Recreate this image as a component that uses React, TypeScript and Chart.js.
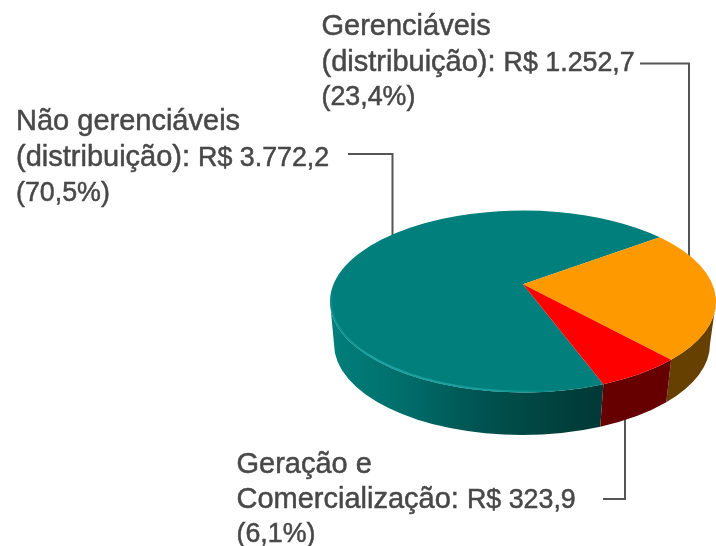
import React, { useEffect, useRef } from "react";
import { Chart, registerables } from "chart.js";

Chart.register(...registerables);

const categories = ["Não gerenciáveis (distribuição)", "Gerenciáveis (distribuição)", "Geração e Comercialização"];
const values = [3772.2, 1252.7, 323.9];
const valueLabels = ["R$ 3.772,2", "R$ 1.252,7", "R$ 323,9"];
const percentLabels = ["(70,5%)", "(23,4%)", "(6,1%)"];
const topColors = ["#007F7C", "#FF9900", "#FF0000"];
const wallColors = ["#006060", "#664000", "#660000"];
const labelLines = [
  ["Não gerenciáveis", "(distribuição):"],
  ["Gerenciáveis", "(distribuição):"],
  ["Geração e", "Comercialização:"],
];

const W = 716;
const H = 546;
const ROTATION = 159.6;
const TILT = 0.4715;
const APEX_K = 0.825;
const DEPTH = 42.5;
const BOTTOM_INSET = 5;
const LABEL_FONT = 29;
const VALUE_FONT = 26.8;
const TEXT_COLOR = "#484848";
const LINE_COLOR = "#555555";
const labelPos = [
  { x: 16, y: [130, 165.5, 201] },
  { x: 321.5, y: [35, 70.5, 105] },
  { x: 236.5, y: [473, 507.5, 542] },
];
const leaders = [
  [[348, 154], [392.5, 154], [392.5, 240]],
  [[640, 63.5], [689, 63.5], [689, 258]],
  [[603, 499], [625, 499], [625, 415]],
];

const toPhi = (chartAngle: number) => {
  // chart angle (0 = +x) to ellipse angle from the far point, with perspective
  let a = chartAngle + Math.PI / 2;
  a = Math.atan2(Math.sin(a), Math.cos(a));
  return 2 * Math.atan2(APEX_K * Math.sin(a / 2), Math.cos(a / 2));
};

const pie3d = {
  id: "pie3d",
  beforeDatasetsDraw(chart: any) {
    const ctx = chart.ctx;
    const arcs = chart.getDatasetMeta(0).data;
    const { x: cx, y: cy, outerRadius: rx } = arcs[0].getProps(["x", "y", "outerRadius"]);
    const ry = rx * TILT;
    const brx = rx - BOTTOM_INSET;
    const bcx = cx - 1;
    const bcy = cy + DEPTH;

    ctx.save();
    ctx.strokeStyle = LINE_COLOR;
    ctx.lineWidth = 2;
    for (const l of leaders) {
      ctx.beginPath();
      l.forEach((p, i) => (i ? ctx.lineTo(p[0], p[1]) : ctx.moveTo(p[0], p[1])));
      ctx.stroke();
    }

    const segs = arcs.map((arc: any, i: number) => {
      const s = toPhi(arc.startAngle);
      let e = toPhi(arc.endAngle);
      if (e <= s) e += Math.PI * 2;
      return { s, e, i };
    });

    // side wall
    const front0 = Math.PI / 2;
    const front1 = (Math.PI * 3) / 2;
    for (const seg of segs) {
      for (const off of [0, -Math.PI * 2, Math.PI * 2]) {
        const a = Math.max(seg.s + off, front0);
        const b = Math.min(seg.e + off, front1);
        if (b <= a) continue;
        ctx.beginPath();
        ctx.ellipse(cx, cy, rx, ry, 0, a - Math.PI / 2, b - Math.PI / 2);
        ctx.ellipse(bcx, bcy, brx, ry, 0, b - Math.PI / 2, a - Math.PI / 2, true);
        ctx.closePath();
        if (seg.i === 0) {
          const g = ctx.createLinearGradient(cx - rx, 0, cx + 0.42 * rx, 0);
          g.addColorStop(0, "#007f7b");
          g.addColorStop(0.25, "#006f6c");
          g.addColorStop(0.55, "#005351");
          g.addColorStop(0.8, "#00433f");
          g.addColorStop(1, "#003836");
          ctx.fillStyle = g;
        } else {
          ctx.fillStyle = wallColors[seg.i];
        }
        ctx.fill();
      }
    }

    // top face
    const apexY = cy - ry * 0.19;
    for (const seg of segs) {
      ctx.beginPath();
      ctx.moveTo(cx, apexY);
      ctx.ellipse(cx, cy, rx, ry, 0, seg.s - Math.PI / 2, seg.e - Math.PI / 2);
      ctx.closePath();
      ctx.fillStyle = arcs[seg.i].options.backgroundColor;
      ctx.fill();
    }

    // rim highlight
    const rim = ctx.createLinearGradient(cx - rx, 0, cx + 0.2 * rx, 0);
    rim.addColorStop(0, "rgba(30,165,165,0.35)");
    rim.addColorStop(0.2, "rgba(30,165,165,0.95)");
    rim.addColorStop(0.7, "rgba(30,165,165,0.75)");
    rim.addColorStop(1, "rgba(30,165,165,0)");
    ctx.beginPath();
    ctx.ellipse(cx, cy, rx - 1, ry - 1, 0, Math.PI * 0.42, Math.PI * 1.02);
    ctx.strokeStyle = rim;
    ctx.lineWidth = 2;
    ctx.stroke();
    ctx.restore();
    return false;
  },
  afterDraw(chart: any) {
    const ctx = chart.ctx;
    ctx.save();
    ctx.fillStyle = TEXT_COLOR;
    ctx.strokeStyle = TEXT_COLOR;
    ctx.lineWidth = 0.5;
    ctx.textBaseline = "alphabetic";
    ctx.textAlign = "left";
    const put = (t: string, x: number, y: number) => {
      ctx.fillText(t, x, y);
      ctx.strokeText(t, x, y);
    };
    categories.forEach((_, i) => {
      const p = labelPos[i];
      ctx.font = `${LABEL_FONT}px "Liberation Sans"`;
      put(labelLines[i][0], p.x, p.y[0]);
      put(labelLines[i][1], p.x, p.y[1]);
      const w = ctx.measureText(labelLines[i][1] + " ").width;
      ctx.font = `${VALUE_FONT}px "Liberation Sans"`;
      put(valueLabels[i], p.x + w, p.y[1]);
      put(percentLabels[i], p.x, p.y[2]);
    });
    ctx.restore();
  },
};

export default function App() {
  const ref = useRef<HTMLCanvasElement>(null);
  useEffect(() => {
    const chart = new Chart(ref.current!, {
      type: "pie",
      data: {
        labels: categories,
        datasets: [{ data: values, backgroundColor: topColors, borderWidth: 0 }],
      },
      options: {
        responsive: false,
        animation: false,
        rotation: ROTATION,
        layout: { padding: { left: 330, right: 0, top: 108.5, bottom: 51.5 } },
        plugins: { legend: { display: false }, tooltip: { enabled: false } },
      },
      plugins: [pie3d],
    } as any);
    return () => chart.destroy();
  }, []);
  return (
    <div style={{ position: "absolute", left: 0, top: 0, width: W, height: H, background: "#fff" }}>
      <canvas ref={ref} width={W} height={H} style={{ display: "block" }} />
    </div>
  );
}
